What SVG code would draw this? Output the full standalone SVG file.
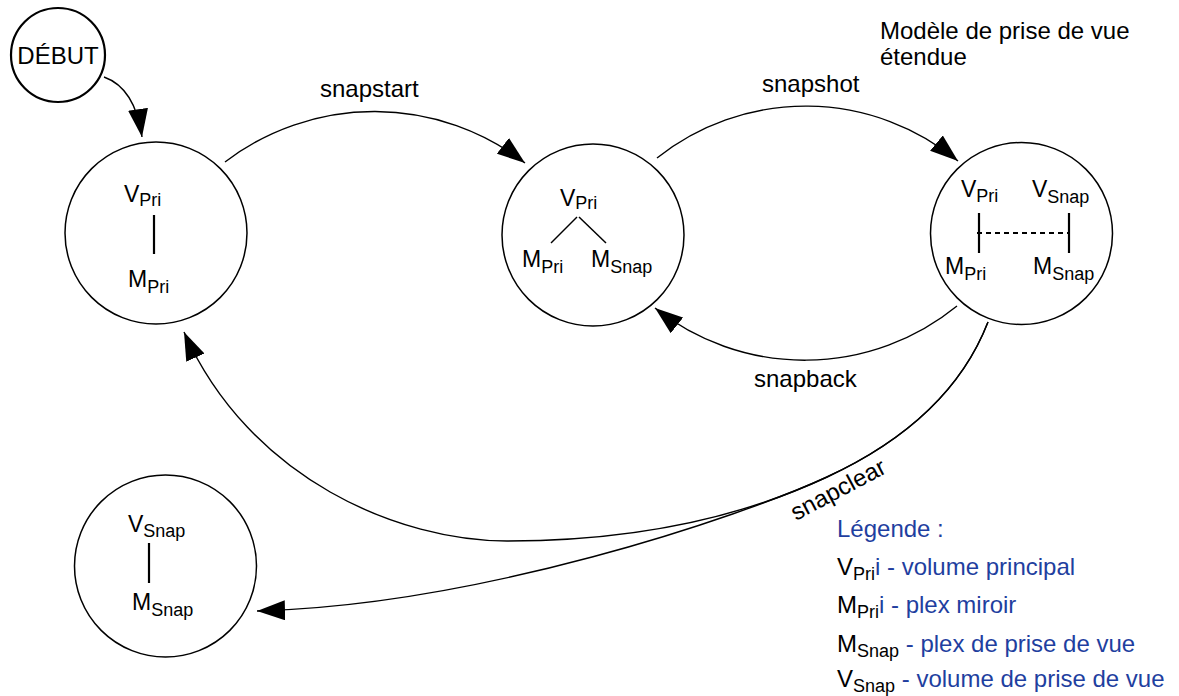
<svg xmlns="http://www.w3.org/2000/svg" width="1179" height="696" viewBox="0 0 1179 696">
<style>
text{font-family:"Liberation Sans",Arial,sans-serif;fill:#000}
.lbl{font-size:24px}
.in{font-size:23px}
.sub{font-size:18px}
.blue{fill:#1f3f9f}
.node{fill:#fff;stroke:#000;stroke-width:1.5}
.start{fill:#fff;stroke:#000;stroke-width:2.2}
.bar{stroke:#000;stroke-width:2.2;fill:none}
.dash{stroke:#000;stroke-width:2;stroke-dasharray:5 4;fill:none}
.edge{fill:none;stroke:#000;stroke-width:1.4}
</style>
<defs>
<marker id="arr" markerUnits="userSpaceOnUse" viewBox="0 0 28 20" refX="28" refY="10" markerWidth="28" markerHeight="20" orient="auto">
<path d="M0,0 L28,10 L0,20 Z" fill="#000"/>
</marker>
</defs>

<g id="start">
<circle class="start" cx="58" cy="55" r="47"/>
<text class="lbl" x="58" y="64" text-anchor="middle">DÉBUT</text>
</g>

<g id="state-primary">
<circle class="node" cx="156" cy="233" r="91"/>
<text class="in" x="124" y="202">V<tspan class="sub" dy="4">Pri</tspan></text>
<line class="bar" x1="154" y1="215" x2="154" y2="254"/>
<text class="in" x="128" y="287">M<tspan class="sub" dy="6">Pri</tspan></text>
</g>

<g id="state-snapstart">
<circle class="node" cx="593" cy="235" r="91"/>
<text class="in" x="560" y="206">V<tspan class="sub" dy="3">Pri</tspan></text>
<line class="bar" style="stroke-width:1.5" x1="577" y1="217" x2="551" y2="243"/>
<line class="bar" style="stroke-width:1.5" x1="579" y1="217" x2="606" y2="243"/>
<text class="in" x="522" y="267">M<tspan class="sub" dy="6">Pri</tspan></text>
<text class="in" x="591" y="267">M<tspan class="sub" dy="6">Snap</tspan></text>
</g>

<g id="state-snapshot">
<circle class="node" cx="1021.5" cy="233.5" r="91"/>
<text class="in" x="961" y="197">V<tspan class="sub" dy="5">Pri</tspan></text>
<text class="in" x="1032" y="197">V<tspan class="sub" dy="6">Snap</tspan></text>
<line class="bar" x1="979" y1="213" x2="979" y2="253"/>
<line class="bar" x1="1069" y1="213" x2="1069" y2="253"/>
<line class="dash" x1="977" y1="233" x2="1069" y2="233"/>
<text class="in" x="945" y="274">M<tspan class="sub" dy="6">Pri</tspan></text>
<text class="in" x="1033" y="274">M<tspan class="sub" dy="6">Snap</tspan></text>
</g>

<g id="state-snapvol">
<circle class="node" cx="165.5" cy="566" r="91"/>
<text class="in" x="128" y="532">V<tspan class="sub" dy="5">Snap</tspan></text>
<line class="bar" x1="149" y1="543" x2="149" y2="583"/>
<text class="in" x="132" y="610">M<tspan class="sub" dy="6">Snap</tspan></text>
</g>

<g id="connectors">
<path class="edge" d="M104,77 Q135,88 142,137" marker-end="url(#arr)"/>
<path class="edge" d="M225,162 A246,246 0 0 1 525,163" marker-end="url(#arr)"/>
<path class="edge" d="M657,158 A239,239 0 0 1 958,161" marker-end="url(#arr)"/>
<path class="edge" d="M957,306 A241,241 0 0 1 655,308" marker-end="url(#arr)"/>
<path class="edge" d="M988,322 Q950,420 827,477 C729,523 620,541 507,541 C400,541 250,480 184,332" marker-end="url(#arr)"/>
<path class="edge" d="M988,322 Q950,420 827,477 C740,517 480,605 257,611" marker-end="url(#arr)"/>
</g>

<g id="labels">
<text class="lbl" x="320" y="97">snapstart</text>
<text class="lbl" x="762" y="92">snapshot</text>
<text class="lbl" x="754" y="387">snapback</text>
<text class="lbl" transform="translate(796,521) rotate(-28)">snapclear</text>
<text class="lbl" x="880" y="39">Modèle de prise de vue</text>
<text class="lbl" x="880" y="65">étendue</text>
</g>

<g id="legend">
<text class="lbl blue" x="837" y="537">Légende :</text>
<text class="lbl" x="837" y="575">V<tspan class="sub" dy="5">Pri</tspan><tspan class="blue" dy="-5">i - volume principal</tspan></text>
<text class="lbl" x="837" y="613">M<tspan class="sub" dy="5">Pri</tspan><tspan class="blue" dy="-5">i - plex miroir</tspan></text>
<text class="lbl" x="837" y="652">M<tspan class="sub" dy="5">Snap</tspan><tspan class="blue" dy="-5"> - plex de prise de vue</tspan></text>
<text class="lbl" x="837" y="687">V<tspan class="sub" dy="5">Snap</tspan><tspan class="blue" dy="-5"> - volume de prise de vue</tspan></text>
</g>
</svg>
